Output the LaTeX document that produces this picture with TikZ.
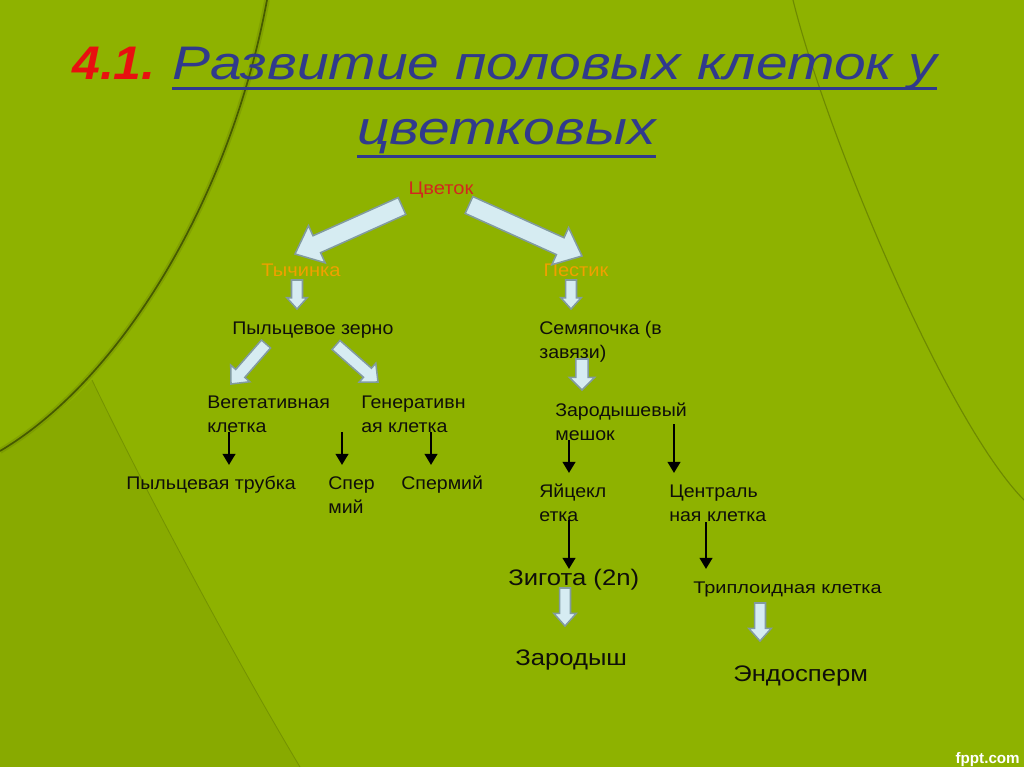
\documentclass[tikz,border=0pt]{standalone}
\usepackage{fontspec}
\setmainfont{Liberation Sans}
\usetikzlibrary{calc,arrows.meta}
\definecolor{bggreen}{RGB}{142,178,0}
\definecolor{bgdark}{RGB}{136,170,0}
\definecolor{arcline}{RGB}{70,90,0}
\definecolor{titleblue}{RGB}{48,58,140}
\definecolor{titlered}{RGB}{232,16,16}
\definecolor{flowerred}{RGB}{210,40,30}
\definecolor{organorange}{RGB}{240,160,0}
\definecolor{arrowfill}{RGB}{214,236,242}
\definecolor{arrowedge}{RGB}{130,155,160}
\definecolor{txt}{RGB}{15,15,10}
\tikzset{
  lbl/.style={inner sep=0pt, text=txt, font=\fontsize{13}{17}\selectfont, align=left, xscale=1.07},
  biglbl/.style={inner sep=0pt, text=txt, font=\fontsize{16}{20}\selectfont, xscale=1.14},
  organ/.style={inner sep=0pt, text=organorange, font=\fontsize{13}{15}\selectfont, xscale=1.1},
  titletext/.style={inner sep=0pt, text=titleblue, font=\fontsize{33.5}{40}\selectfont\itshape, xscale=1.21},
  blockarrow/.style={fill=arrowfill, draw=arrowedge, line width=1.1pt, line join=miter},
  blackarrow/.style={draw=black, line width=1.8pt, -{Triangle[width=9pt,length=8pt]}},
}
\newcommand\fatarrow[5]{%
  \coordinate (fan) at ($(#2)!#5!(#1)$);
  \draw[blockarrow] ($(#1)!#3!90:(#2)$) -- ($(fan)!#3!-90:(#1)$) -- ($(fan)!#4!-90:(#1)$)
    -- (#2) -- ($(fan)!#4!90:(#1)$) -- ($(fan)!#3!90:(#1)$) -- ($(#1)!#3!-90:(#2)$) -- cycle;
}
\begin{document}
\begin{tikzpicture}[x=0.025cm,y=-0.025cm]
% background
\fill[bggreen] (0,0) rectangle (1024,767);
\useasboundingbox (0,0) rectangle (1024,767);
\fill[bgdark] (0,451) .. controls (40,427) and (70,405) .. (92,380)
  .. controls (140,480) and (230,650) .. (300,767) -- (0,767) -- cycle;
\draw[arcline!60!bggreen, line width=4pt, opacity=0.3] (267,0) .. controls (230,200) and (120,380) .. (0,451);
\draw[arcline, line width=1.2pt] (267,0) .. controls (230,200) and (120,380) .. (0,451);
\draw[arcline!35!bggreen, line width=0.6pt] (92,380) .. controls (140,480) and (230,650) .. (300,767);
\draw[arcline!45!bggreen, line width=0.8pt] (793,0) .. controls (825,130) and (945,420) .. (1024,500);

% title
\node[anchor=base west, inner sep=0pt, text=titlered, font=\fontsize{33.5}{40}\selectfont\bfseries\itshape, xscale=1.06] (num) at (72,80) {4.1.};
\node[titletext, anchor=base west] (t1) at (172,80) {Развитие половых клеток у};
\node[titletext, anchor=base west] (t2) at (357,145) {цветковых};
\draw[titleblue, line width=2pt] ([yshift=-6pt]t1.base west) -- ([yshift=-6pt]t1.base east);
\draw[titleblue, line width=2pt] ([yshift=-8pt]t2.base west) -- ([yshift=-8pt]t2.base east);

% nodes
\node[anchor=base, inner sep=0pt, text=flowerred, font=\fontsize{13}{15}\selectfont, xscale=1.1] (flower) at (441,195) {Цветок};
\node[organ, anchor=base] (stamen) at (301,277) {Тычинка};
\node[organ, anchor=base] (pistil) at (576,277) {Пестик};
\node[lbl, anchor=base west] (pollen) at (232,334) {Пыльцевое зерно};
\node[lbl, anchor=base west] (ovule) at (539,358) {Семяпочка (в\\завязи)};
\node[lbl, anchor=base west] (veg) at (207,432) {Вегетативная\\клетка};
\node[lbl, anchor=base west] (gen) at (361,432) {Генеративн\\ая клетка};
\node[lbl, anchor=base west] (tube) at (126,489) {Пыльцевая трубка};
\node[lbl, anchor=base west] (sp1) at (328,513) {Спер\\мий};
\node[lbl, anchor=base west] (sp2) at (401,489) {Спермий};
\node[lbl, anchor=base west] (sac) at (555,440) {Зародышевый\\мешок};
\node[lbl, anchor=base west] (egg) at (539,521) {Яйцекл\\етка};
\node[lbl, anchor=base west] (central) at (669,521) {Централь\\ная клетка};
\node[biglbl, anchor=base west] (zygote) at (508,585) {Зигота (2n)};
\node[inner sep=0pt, text=txt, font=\fontsize{12}{14}\selectfont, xscale=1.18, anchor=base west] (trip) at (693,593) {Триплоидная клетка};
\node[biglbl, anchor=base west] (embryo) at (515,665) {Зародыш};
\node[biglbl, anchor=base west] (endo) at (733,681) {Эндосперм};
\node[anchor=base east, inner sep=0pt, text=white, font=\fontsize{10.8}{12}\selectfont\bfseries] (fppt) at (1020,763) {fppt.com};

% connector end points
\coordinate (fL) at (402,206); \coordinate (stT) at (295,254);
\coordinate (fR) at (469,205); \coordinate (piT) at (582,256);
\coordinate (stA) at (297,280); \coordinate (stB) at (297,309);
\coordinate (piA) at (571,280); \coordinate (piB) at (571,309);
\coordinate (poL) at (266,344); \coordinate (vegT) at (231,384);
\coordinate (poR) at (336,345); \coordinate (genT) at (378,382);
\coordinate (ovA) at (582,359); \coordinate (ovB) at (582,390);
\coordinate (zyA) at (565,588); \coordinate (zyB) at (565,626);
\coordinate (trA) at (760,603); \coordinate (trB) at (760,641);

\fatarrow{fL}{stT}{6.6pt}{14.5pt}{17pt}
\fatarrow{fR}{piT}{6.6pt}{14.5pt}{17pt}
\fatarrow{stA}{stB}{3.9pt}{7.2pt}{8pt}
\fatarrow{piA}{piB}{3.9pt}{7.2pt}{8pt}
\fatarrow{poL}{vegT}{4.3pt}{9pt}{10pt}
\fatarrow{poR}{genT}{4.3pt}{9pt}{10pt}
\fatarrow{ovA}{ovB}{4.3pt}{9pt}{9pt}
\fatarrow{zyA}{zyB}{3.9pt}{8pt}{9pt}
\fatarrow{trA}{trB}{3.9pt}{8pt}{9pt}

% black arrows
\coordinate (b1a) at (229,432); \coordinate (b1b) at (229,465);
\coordinate (b2a) at (342,432); \coordinate (b2b) at (342,465);
\coordinate (b3a) at (431,432); \coordinate (b3b) at (431,465);
\coordinate (b4a) at (569,440); \coordinate (b4b) at (569,473);
\coordinate (b5a) at (674,424); \coordinate (b5b) at (674,473);
\coordinate (b6a) at (569,520); \coordinate (b6b) at (569,569);
\coordinate (b7a) at (706,522); \coordinate (b7b) at (706,569);
\draw[blackarrow] (b1a) -- (b1b);
\draw[blackarrow] (b2a) -- (b2b);
\draw[blackarrow] (b3a) -- (b3b);
\draw[blackarrow] (b4a) -- (b4b);
\draw[blackarrow] (b5a) -- (b5b);
\draw[blackarrow] (b6a) -- (b6b);
\draw[blackarrow] (b7a) -- (b7b);
\end{tikzpicture}
\end{document}
